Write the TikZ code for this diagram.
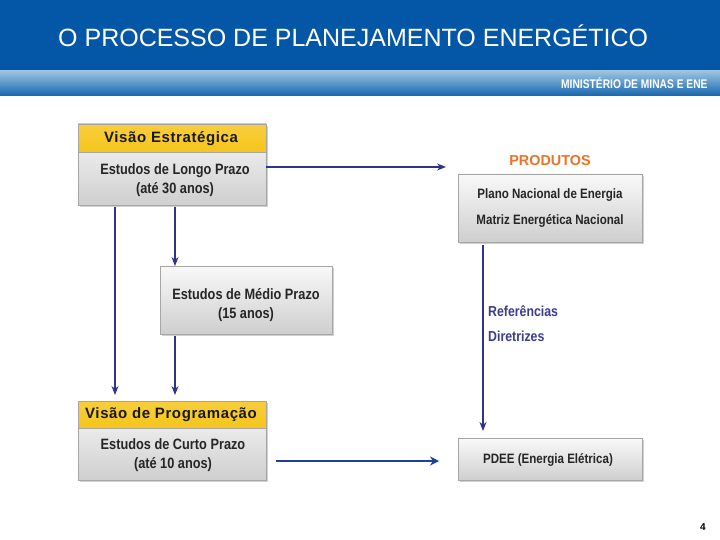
\documentclass[tikz,border=0pt]{standalone}
\usepackage{fontspec}
\setmainfont{Liberation Sans}
\newfontfamily\narrowb[FakeStretch=0.85]{Liberation Sans Bold}
\newfontfamily\narrowm[FakeStretch=0.82]{Liberation Sans Bold}
\newfontfamily\widebold[LetterSpace=4]{Liberation Sans Bold}
\usetikzlibrary{shadows,arrows.meta}
\definecolor{hdrblue}{HTML}{0456A6}
\definecolor{bandtop}{HTML}{9CC3E0}
\definecolor{bandbot}{HTML}{1466B0}
\definecolor{navy}{HTML}{2E3488}
\definecolor{arrblue}{HTML}{1E3F9A}
\definecolor{ylw}{HTML}{F6C51B}
\definecolor{orng}{HTML}{E8742A}
\definecolor{lbl}{HTML}{3A3E8E}
\tikzset{
  x=1pt,y=-1pt,
  graybox/.style={draw=gray!70,line width=0.5pt,top color=gray!5,bottom color=gray!38,
    drop shadow={shadow xshift=2pt,shadow yshift=-2pt,fill=gray!60,opacity=0.6}},
  yelbar/.style={draw=gray!70,line width=0.5pt,top color=ylw!85!white,bottom color=ylw},
  boxtext/.style={font=\narrowb\fontsize{15}{19}\selectfont,text=black!85,align=center},
  bartext/.style={font=\widebold\fontsize{15}{16}\selectfont,text=black!90},
  prodtext/.style={font=\narrowb\fontsize{13.6}{15}\selectfont,text=black!85},
  conn/.style={draw=navy,line width=1.1pt,-{Stealth[length=9pt,width=7pt]}},
  thick conn/.style={draw=arrblue,line width=2.2pt,-{Stealth[length=9pt,width=9pt]}},
}
\begin{document}
\begin{tikzpicture}
\useasboundingbox (0,0) rectangle (720,540);
\fill[white] (0,0) rectangle (720,540);
% header
\fill[hdrblue] (0,0) rectangle (720,71);
\shade[top color=bandtop,bottom color=bandbot] (0,71) rectangle (720,96);
\node[text=white,font=\fontsize{25}{28}\selectfont,anchor=west,inner sep=0pt] (title) at (58,36) {O PROCESSO DE PLANEJAMENTO ENERG\'ETICO};
\node[text=white,font=\narrowm\fontsize{12.5}{14}\selectfont,anchor=west,inner sep=0pt] (min) at (561,83) {MINIST\'ERIO DE MINAS E ENE};
% Box A
\path[graybox] (78,124) rectangle (266,205);
\path[yelbar] (78,124) rectangle (266,152);
\node[bartext] (va) at (171,139) {Vis\~ao Estrat\'egica};
\node[boxtext] (A) at (175,180) {Estudos de Longo Prazo\\(at\'e 30 anos)};
\coordinate (Ar) at (266,167);
\coordinate (Ab1) at (115,207);
\coordinate (Ab2) at (175,207);
% Box B
\path[graybox] (160,266) rectangle (332,334);
\node[boxtext] (B) at (246,305) {Estudos de M\'edio Prazo\\(15 anos)};
\coordinate (Bt) at (175,266);
\coordinate (Bb) at (175,336);
% Box C
\path[graybox] (78,401) rectangle (266,480);
\path[yelbar] (78,401) rectangle (266,428);
\node[bartext] (vc) at (171,415) {Vis\~ao de Programa\c{c}\~ao};
\node[boxtext] (C) at (173,455) {Estudos de Curto Prazo\\(at\'e 10 anos)};
\coordinate (Ct1) at (115,395);
\coordinate (Ct2) at (175,395);
\coordinate (Cr) at (276,461);
% Produtos
\node[text=orng,font=\bfseries\fontsize{14.4}{16}\selectfont] (prod) at (550,161) {PRODUTOS};
\path[graybox] (458,174) rectangle (642,242);
\node[prodtext] (D1) at (550,195) {Plano Nacional de Energia};
\node[prodtext] (D2) at (550,221) {Matriz Energ\'etica Nacional};
\coordinate (Dl) at (446,167);
\coordinate (Db) at (483,245);
% Box E
\path[graybox] (458,438) rectangle (642,480);
\node[prodtext] (E) at (548,460) {PDEE (Energia El\'etrica)};
\coordinate (Et) at (483,431);
\coordinate (El) at (439,461);
% labels
\node[text=lbl,font=\narrowb\fontsize{14.5}{16}\selectfont,anchor=west,inner sep=0pt] (ref) at (488,311) {Refer\^encias};
\node[text=lbl,font=\narrowb\fontsize{14.5}{16}\selectfont,anchor=west,inner sep=0pt] (dir) at (488,336) {Diretrizes};
% connectors
\draw[conn] (Ar) -- (Dl);
\draw[conn] (Ab1) -- (Ct1);
\draw[conn] (Ab2) -- (Bt);
\draw[conn] (Bb) -- (Ct2);
\draw[conn] (Db) -- (Et);
\draw[thick conn] (Cr) -- (El);
% page number
\node[font=\bfseries\fontsize{10}{12}\selectfont] (pg) at (703,527) {4};
\end{tikzpicture}
\end{document}
